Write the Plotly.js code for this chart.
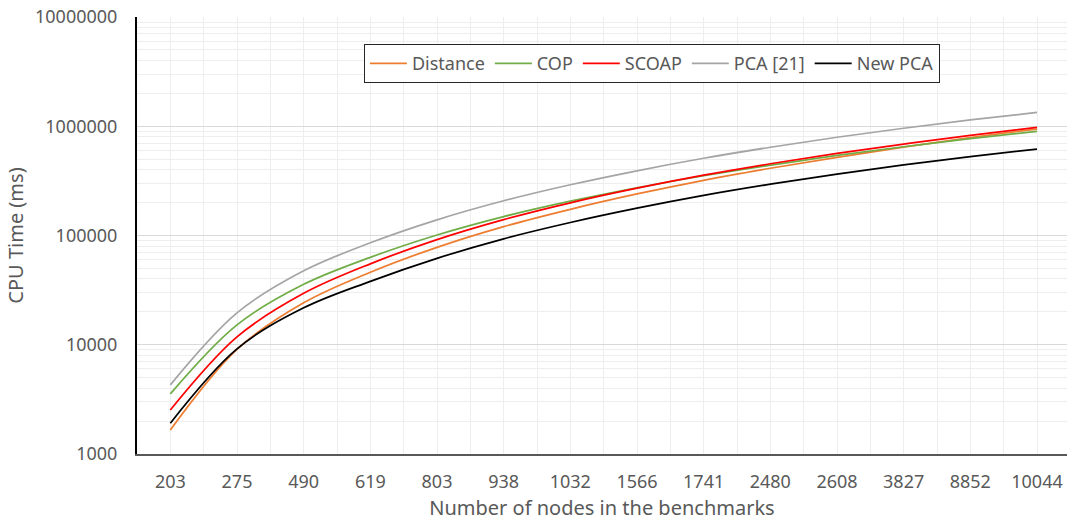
<!DOCTYPE html>
<html>
<head>
<meta charset="utf-8">
<script src="https://cdn.plot.ly/plotly-3.0.1.min.js"></script>
<style>html,body{margin:0;padding:0;background:#fff;}#chart{width:1067px;height:523px;}</style>
</head>
<body>
<div id="chart"></div>
<script>
// Categories (number of nodes in the benchmarks)
const categories = ["203","275","490","619","803","938","1032","1566","1741","2480","2608","3827","8852","10044"];

// CPU time (ms)
const distance = [1660, 9080, 24190, 46030, 77960, 120700, 173700, 239900, 320300, 412500, 520100, 644900, 787900, 942800];
const cop      = [3550, 15210, 35740, 63150, 101100, 149000, 206100, 273400, 352200, 440400, 540300, 649100, 769800, 898200];
const scoap    = [2530, 11810, 29560, 55050, 91740, 139800, 199300, 271100, 356700, 453600, 564700, 687100, 825500, 975000];
const pca21    = [4290, 19600, 47500, 85800, 139200, 207900, 291300, 391300, 509300, 642300, 793000, 958800, 1142200, 1338000];
const newPca   = [1915, 9170, 21770, 38070, 61830, 93280, 131500, 177800, 232900, 295000, 365000, 442200, 526700, 618300];

const seriesNames = ["Distance", "COP", "SCOAP", "PCA [21]", "New PCA"];
const seriesData = [distance, cop, scoap, pca21, newPca];
const seriesColors = ["#ED7D31", "#70AD47", "#FF0000", "#A5A5A5", "#000000"];

const xIdx = categories.map((c, i) => i);

const traces = seriesData.map((ys, k) => ({
  type: "scatter",
  mode: "lines",
  name: seriesNames[k],
  x: xIdx,
  y: ys,
  line: {color: seriesColors[k], width: 1.75, shape: "spline", smoothing: 1},
  hoverinfo: "skip"
}));

const FONT = "'Noto Sans', 'Open Sans', sans-serif";
const TXT = "#595959";

const layout = {
  width: 1067,
  height: 523,
  margin: {l: 137, r: 0, t: 17, b: 69},
  paper_bgcolor: "#ffffff",
  plot_bgcolor: "#ffffff",
  font: {family: FONT, color: TXT, size: 18},
  showlegend: true,
  legend: {
    orientation: "h",
    x: 0.244, y: 0.938, xanchor: "left", yanchor: "top",
    bgcolor: "#ffffff",
    bordercolor: "#262626",
    borderwidth: 1,
    itemwidth: 37,
    font: {family: FONT, size: 18, color: TXT},
    itemclick: false, itemdoubleclick: false
  },
  xaxis: {
    type: "linear",
    range: [-0.5, 13.45],
    tickmode: "array",
    tickvals: xIdx,
    ticktext: categories,
    showgrid: true,
    gridcolor: "#eeeeee",
    gridwidth: 1,
    minor: {tickmode: "linear", tick0: 0, dtick: 0.5, showgrid: true, gridcolor: "#eeeeee", gridwidth: 1, ticks: ""},
    zeroline: false,
    showline: true,
    linecolor: "#595959",
    linewidth: 2,
    ticks: "",
    ticklabelstandoff: 10,
    tickfont: {family: FONT, size: 18, color: TXT},
    title: {text: "Number of nodes in the benchmarks", font: {family: FONT, size: 20, color: TXT}, standoff: 9},
    fixedrange: true
  },
  yaxis: {
    type: "log",
    range: [3, 7],
    dtick: 1,
    tickformat: "d",
    showgrid: true,
    gridcolor: "#d9d9d9",
    gridwidth: 1,
    minor: {dtick: "D1", showgrid: true, gridcolor: "#eeeeee", gridwidth: 1, ticks: ""},
    zeroline: false,
    showline: true,
    linecolor: "#000000",
    linewidth: 2,
    ticks: "",
    ticklabelstandoff: 14,
    tickfont: {family: FONT, size: 18, color: TXT},
    title: {text: "CPU Time (ms)", font: {family: FONT, size: 20, color: TXT}, standoff: 6},
    fixedrange: true
  }
};

Plotly.newPlot("chart", traces, layout, {displayModeBar: false, staticPlot: true});
</script>
</body>
</html>
